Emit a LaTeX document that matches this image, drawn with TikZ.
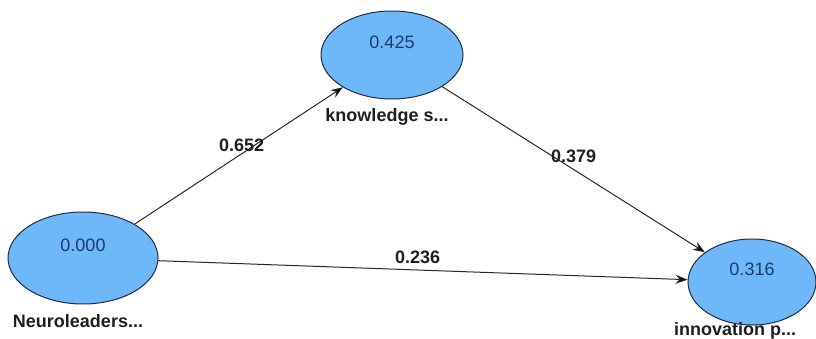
\documentclass[tikz,border=0pt]{standalone}
\usepackage{fontspec}
\setmainfont{Liberation Sans}
\usetikzlibrary{arrows.meta,positioning,shapes.geometric}
\definecolor{latentfill}{RGB}{110,183,248}
\definecolor{latentline}{RGB}{30,45,75}
\definecolor{valuetext}{RGB}{28,60,110}
\definecolor{pathline}{RGB}{40,40,40}

\begin{document}
\begin{tikzpicture}[x=1pt,y=-1pt,->,>={Stealth[length=12pt,width=9pt]},
				line width=1pt,
				latent/.style={ellipse,draw=latentline,fill=latentfill,line width=1pt,
					inner sep=0pt,text=valuetext,font=\fontsize{18}{20}\selectfont,
					text height=13pt,text depth=26pt},
				varname/.style={inner sep=0pt,text=black!88,
					font=\fontsize{18}{20}\selectfont\bfseries},
				coef/.style={inner sep=0pt,text=black!88,
					font=\fontsize{18}{20}\selectfont\bfseries}]
			\useasboundingbox (0,0) rectangle (816,339);

			\node[latent, minimum width=150pt, minimum height=92pt] (N) at (83,258)  {0.000};
			\node[latent, minimum width=142pt, minimum height=88pt] (K) at (392,55)  {0.425};
			\node[latent, minimum width=128pt, minimum height=86pt] (I) at (752,282) {0.316};

			\node[varname, below=9pt of N.south, xshift=-5pt]  (Nn) {Neuroleaders...};
			\node[varname, below=8pt of K.south, xshift=-5pt]  (Kn) {knowledge s...};
			\node[varname, below=-4pt of I.south, xshift=-17pt] (In) {innovation p...};

			\path[draw=pathline] (N) edge node[coef, pos=0.5, xshift=3pt, yshift=10pt] {0.652} (K)
			(K) edge node[coef, pos=0.5, xshift=0pt, yshift=13pt] {0.379} (I)
			(N) edge node[coef, pos=0.49, yshift=13pt] {0.236} (I);
		\end{tikzpicture}
\end{document}
